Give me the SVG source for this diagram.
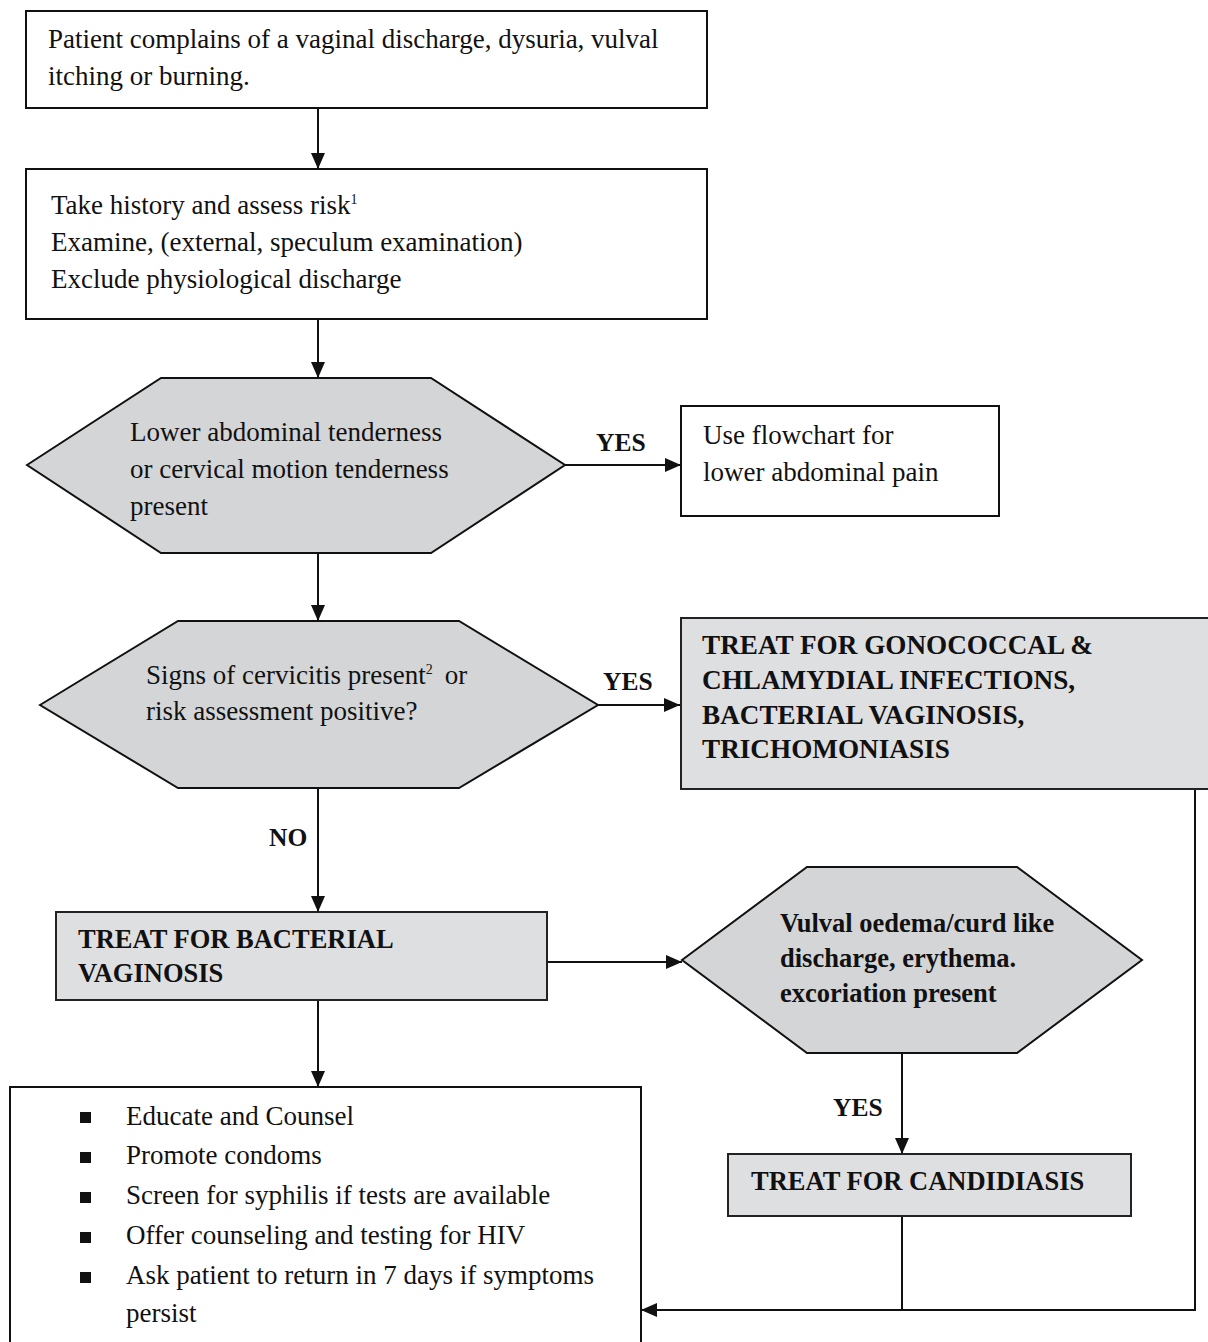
<svg xmlns="http://www.w3.org/2000/svg" width="1208" height="1342" viewBox="0 0 1208 1342">
  <style>
    text { font-family: "Liberation Serif", "Times New Roman", serif; font-size: 27px; fill: #111; }
    .b { font-weight: bold; font-size: 26.5px; }
    .bw { font-weight: bold; font-size: 27.2px; }
    .lbl { font-weight: bold; font-size: 25.5px; }
    .sup { font-size: 14px; }
    .box { fill: #fff; stroke: #111; stroke-width: 2; }
    .grey { fill: #dedfe1; stroke: #222; stroke-width: 2; }
    .hex { fill: #d4d5d7; stroke: #111; stroke-width: 2; }
    .wire { fill: none; stroke: #111; stroke-width: 2; }
    .bullet { fill: #111; }
  </style>
  <defs>
    <marker id="arrow" markerUnits="userSpaceOnUse" markerWidth="16" markerHeight="16" viewBox="0 0 16 16" refX="16" refY="8" orient="auto">
      <path d="M0,1 L16,8 L0,15 Z" fill="#111"/>
    </marker>
  </defs>

  <rect width="1208" height="1342" fill="#fff"/>

  <!-- connectors -->
  <g id="connectors">
    <line class="wire" x1="318" y1="108" x2="318" y2="169" marker-end="url(#arrow)"/>
    <line class="wire" x1="318" y1="319" x2="318" y2="378" marker-end="url(#arrow)"/>
    <line class="wire" x1="565" y1="465" x2="681" y2="465" marker-end="url(#arrow)"/>
    <text class="lbl" x="596" y="451">YES</text>
    <line class="wire" x1="318" y1="553" x2="318" y2="621" marker-end="url(#arrow)"/>
    <line class="wire" x1="598" y1="705" x2="680" y2="705" marker-end="url(#arrow)"/>
    <text class="lbl" x="603" y="690">YES</text>
    <line class="wire" x1="318" y1="788" x2="318" y2="912" marker-end="url(#arrow)"/>
    <text class="lbl" x="269" y="846">NO</text>
    <line class="wire" x1="547" y1="962" x2="682" y2="962" marker-end="url(#arrow)"/>
    <line class="wire" x1="318" y1="1000" x2="318" y2="1087" marker-end="url(#arrow)"/>
    <line class="wire" x1="902" y1="1053" x2="902" y2="1154" marker-end="url(#arrow)"/>
    <text class="lbl" x="833" y="1116">YES</text>
    <line class="wire" x1="902" y1="1216" x2="902" y2="1310"/>
    <polyline class="wire" points="1195,789 1195,1310 641,1310" marker-end="url(#arrow)"/>
  </g>

  <!-- presenting complaint -->
  <g id="complaint">
    <rect class="box" x="26" y="11" width="681" height="97"/>
    <text x="48" y="48">Patient complains of a vaginal discharge, dysuria, vulval</text>
    <text x="48" y="85">itching or burning.</text>
  </g>

  <!-- history and examination -->
  <g id="history">
    <rect class="box" x="26" y="169" width="681" height="150"/>
    <text x="51" y="214">Take history and assess risk<tspan class="sup" dy="-10">1</tspan></text>
    <text x="51" y="251">Examine, (external, speculum examination)</text>
    <text x="51" y="288">Exclude physiological discharge</text>
  </g>

  <!-- decision: abdominal tenderness -->
  <g id="tenderness">
    <polygon class="hex" points="27,465 161,378 431,378 565,465 431,553 161,553"/>
    <text x="130" y="441">Lower abdominal tenderness</text>
    <text x="130" y="478">or cervical motion tenderness</text>
    <text x="130" y="515">present</text>
  </g>

  <!-- referral to abdominal pain chart -->
  <g id="abdominal-pain">
    <rect class="box" x="681" y="406" width="318" height="110"/>
    <text x="703" y="444">Use flowchart for</text>
    <text x="703" y="481">lower abdominal pain</text>
  </g>

  <!-- decision: cervicitis / risk -->
  <g id="cervicitis">
    <polygon class="hex" points="40,705 178,621 459,621 598,705 459,788 178,788"/>
    <text x="146" y="684">Signs of cervicitis present<tspan class="sup" dy="-10">2</tspan><tspan dy="10" dx="12">or</tspan></text>
    <text x="146" y="720">risk assessment positive?</text>
  </g>

  <!-- combined treatment -->
  <g id="treat-combined">
    <rect class="grey" x="681" y="618" width="540" height="171"/>
    <text class="bw" x="702" y="654">TREAT FOR GONOCOCCAL &amp;</text>
    <text class="bw" x="702" y="689">CHLAMYDIAL INFECTIONS,</text>
    <text class="bw" x="702" y="724">BACTERIAL VAGINOSIS,</text>
    <text class="bw" x="702" y="758">TRICHOMONIASIS</text>
  </g>

  <!-- bacterial vaginosis treatment -->
  <g id="treat-bv">
    <rect class="grey" x="56" y="912" width="491" height="88"/>
    <text class="b" x="78" y="948">TREAT FOR BACTERIAL</text>
    <text class="b" x="78" y="982">VAGINOSIS</text>
  </g>

  <!-- decision: candidiasis signs -->
  <g id="candida-signs">
    <polygon class="hex" points="682,960 807,867 1017,867 1142,960 1017,1053 807,1053"/>
    <text class="b" x="780" y="932">Vulval oedema/curd like</text>
    <text class="b" x="780" y="967">discharge, erythema.</text>
    <text class="b" x="780" y="1002">excoriation present</text>
  </g>

  <!-- candidiasis treatment -->
  <g id="treat-candida">
    <rect class="grey" x="728" y="1154" width="403" height="62"/>
    <text class="b" x="751" y="1190">TREAT FOR CANDIDIASIS</text>
  </g>

  <!-- follow-up actions -->
  <g id="follow-up">
    <rect class="box" x="10" y="1087" width="631" height="280"/>
    <rect class="bullet" x="80" y="1112" width="11" height="11"/>
    <text x="126" y="1125">Educate and Counsel</text>
    <rect class="bullet" x="80" y="1152" width="11" height="11"/>
    <text x="126" y="1164">Promote condoms</text>
    <rect class="bullet" x="80" y="1192" width="11" height="11"/>
    <text x="126" y="1204">Screen for syphilis if tests are available</text>
    <rect class="bullet" x="80" y="1232" width="11" height="11"/>
    <text x="126" y="1244">Offer counseling and testing for HIV</text>
    <rect class="bullet" x="80" y="1272" width="11" height="11"/>
    <text x="126" y="1284">Ask patient to return in 7 days if symptoms</text>
    <text x="126" y="1322">persist</text>
  </g>
</svg>
